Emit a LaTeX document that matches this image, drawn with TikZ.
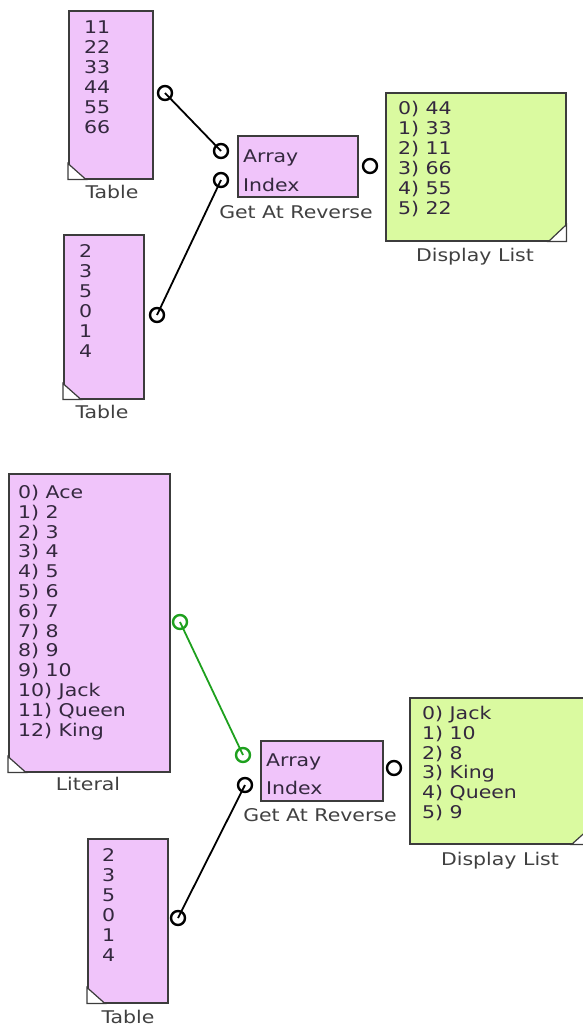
\documentclass[tikz,border=0pt]{standalone}
\usepackage{fontspec}
\newfontfamily\vfont[FakeStretch=1.17]{DejaVu Sans}
\definecolor{blockpink}{RGB}{240,196,250}
\definecolor{listgreen}{RGB}{218,250,160}
\definecolor{wiregreen}{RGB}{30,160,30}
\definecolor{itemtext}{RGB}{52,40,62}
\definecolor{labeltext}{RGB}{64,64,64}
\definecolor{edge}{RGB}{60,60,60}
\begin{document}
\begin{tikzpicture}[x=1pt,y=-1pt,
  font=\vfont\fontsize{17.5}{20}\selectfont,
  tablebox/.style={draw=edge,line width=1.5pt,fill=blockpink,anchor=north west,inner sep=0pt},
  listbox/.style={draw=edge,line width=1.5pt,fill=listgreen,anchor=north west,inner sep=0pt},
  item/.style={anchor=base west,inner sep=0pt,text=itemtext},
  caption/.style={anchor=base,inner sep=0pt,text=labeltext},
  port/.style={circle,draw=black,line width=2.4pt,minimum size=14pt,inner sep=0pt},
  gport/.style={port,draw=wiregreen},
  wire/.style={line width=1.8pt,draw=black},
  gwire/.style={line width=1.8pt,draw=wiregreen},
  corner/.style={fill=white,draw=edge,line width=1.2pt}
]
\useasboundingbox (0,0) rectangle (582,1026);

% ---------- top table ----------
\node[tablebox,minimum width=84pt,minimum height=168pt] (tA) at (68,10) {};
\foreach \t [count=\i] in {11,22,33,44,55,66}
  \node[item] (tA\i) at (84,27+20*\i-20+6.4) {\t};
\draw[corner] (tA.south west) -- ++(0,-16) -- ++(18,16) -- cycle;
\node[caption] (tAl) at (112,198) {Table};

% ---------- top index table ----------
\node[tablebox,minimum width=80pt,minimum height=164pt] (tB) at (63,234) {};
\foreach \t [count=\i] in {2,3,5,0,1,4}
  \node[item] (tB\i) at (79,251+20*\i-20+6.4) {\t};
\draw[corner] (tB.south west) -- ++(0,-16) -- ++(18,16) -- cycle;
\node[caption] (tBl) at (102,418) {Table};

% ---------- top Get At Reverse ----------
\node[tablebox,minimum width=120pt,minimum height=61pt] (gA) at (237,135) {};
\node[item] (gAa) at (243,156+6.4) {Array};
\node[item] (gAi) at (243,185+6.4) {Index};
\node[caption] (gAl) at (296,218) {Get At Reverse};

% ---------- top Display List ----------
\node[listbox,minimum width=180pt,minimum height=148pt] (dA) at (385,92) {};
\foreach \t [count=\i] in {0) 44,1) 33,2) 11,3) 66,4) 55,5) 22}
  \node[item] (dA\i) at (398,108+20*\i-20+6.4) {\t};
\draw[corner] (dA.south east) -- ++(0,-17) -- ++(-18,17) -- cycle;
\node[caption] (dAl) at (475,261) {Display List};

% ---------- top ports and wires ----------
\coordinate (pA) at (165,93);
\coordinate (pAa) at (221,151);
\coordinate (pAi) at (221,180);
\coordinate (pBo) at (157,315);
\coordinate (pAo) at (370,166);
\draw[wire] (pA) -- (pAa);
\draw[wire] (pBo) -- (pAi);
\node[port] (oA) at (pA) {};
\node[port] (iAa) at (pAa) {};
\node[port] (iAi) at (pAi) {};
\node[port] (oB) at (pBo) {};
\node[port] (oG) at (pAo) {};

% ---------- Literal ----------
\node[tablebox,minimum width=161pt,minimum height=298pt] (lit) at (8,473) {};
\foreach \t [count=\i] in {0) Ace,1) 2,2) 3,3) 4,4) 5,5) 6,6) 7,7) 8,8) 9,9) 10,10) Jack,11) Queen,12) King}
  \node[item] (lit\i) at (18,492+19.8*\i-19.8+6.4) {\t};
\draw[corner] (lit.south west) -- ++(0,-16) -- ++(18,16) -- cycle;
\node[caption] (litl) at (88,790) {Literal};

% ---------- bottom index table ----------
\node[tablebox,minimum width=80pt,minimum height=164pt] (tC) at (87,838) {};
\foreach \t [count=\i] in {2,3,5,0,1,4}
  \node[item] (tC\i) at (102,855+20*\i-20+6.4) {\t};
\draw[corner] (tC.south west) -- ++(0,-16) -- ++(18,16) -- cycle;
\node[caption] (tCl) at (128,1023) {Table};

% ---------- bottom Get At Reverse ----------
\node[tablebox,minimum width=122pt,minimum height=60pt] (gB) at (260,740) {};
\node[item] (gBa) at (266,760+6.4) {Array};
\node[item] (gBi) at (266,788+6.4) {Index};
\node[caption] (gBl) at (320,821) {Get At Reverse};

% ---------- bottom Display List ----------
\node[listbox,minimum width=180pt,minimum height=146pt] (dB) at (409,697) {};
\foreach \t [count=\i] in {0) Jack,1) 10,2) 8,3) King,4) Queen,5) 9}
  \node[item] (dB\i) at (422,713+19.8*\i-19.8+6.4) {\t};
\draw[corner] (dB.south east) -- ++(0,-17) -- ++(-19,17) -- cycle;
\node[caption] (dBl) at (500,865) {Display List};

% ---------- bottom ports and wires ----------
\coordinate (pL) at (180,622);
\coordinate (pBa) at (243,755);
\coordinate (pBi) at (245,785);
\coordinate (pCo) at (178,918);
\coordinate (pBo2) at (394,768);
\draw[gwire] (pL) -- (pBa);
\draw[wire] (pCo) -- (pBi);
\node[gport] (oL) at (pL) {};
\node[gport] (iBa) at (pBa) {};
\node[port] (iBi) at (pBi) {};
\node[port] (oC) at (pCo) {};
\node[port] (oG2) at (pBo2) {};
\end{tikzpicture}
\end{document}
